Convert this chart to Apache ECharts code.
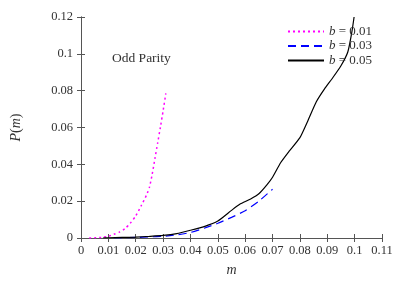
<!DOCTYPE html>
<html><head><meta charset="utf-8">
<script src="https://cdn.jsdelivr.net/npm/echarts@6/dist/echarts.min.js"></script>
<style>html,body{margin:0;padding:0;background:#fff}#c{width:407px;height:282px}</style>
</head><body><div id="c"></div>
<script>
var xTickLabels = ['0','0.01','0.02','0.03','0.04','0.05','0.06','0.07','0.08','0.09','0.1','0.11'];
var yTickLabels = ['0','0.02','0.04','0.06','0.08','0.1','0.12'];
var seriesNames = ['b = 0.01','b = 0.03','b = 0.05'];

var m01 = [0.003,0.005,0.008,0.010,0.012,0.014,0.016,0.018,0.020,0.022,0.024,0.025,0.026,0.027,0.028,0.029,0.030,0.031];
var p01 = [0,0.0001,0.0004,0.0010,0.0020,0.0032,0.0050,0.0080,0.0120,0.0175,0.0235,0.0275,0.0345,0.0430,0.0515,0.0600,0.0690,0.0785];

var m03 = [0.012,0.015,0.020,0.025,0.030,0.035,0.040,0.045,0.050,0.055,0.060,0.065,0.070];
var p03 = [0,0.0001,0.0003,0.0006,0.0009,0.0017,0.0030,0.0053,0.0080,0.0112,0.0148,0.0200,0.0265];

var m05 = [0.008,0.010,0.015,0.020,0.025,0.030,0.035,0.040,0.045,0.050,0.055,0.058,0.062,0.065,0.068,0.070,0.073,0.076,0.080,0.083,0.086,0.089,0.092,0.095,0.0975,0.099,0.0998];
var p05 = [0,0.0001,0.0003,0.0005,0.0009,0.0014,0.0024,0.0042,0.0062,0.0092,0.0150,0.0183,0.0212,0.0240,0.0290,0.0330,0.0410,0.0470,0.0545,0.0640,0.0740,0.0810,0.0870,0.0935,0.1010,0.1120,0.1200];

function zip(a,b){return a.map(function(v,i){return [v,b[i]];});}

var FONT = 'Liberation Serif';
var AX = '#555';
var TXT = '#333';
var chart = echarts.init(document.getElementById('c'));
var tickCommon = {show:true, inside:true, length:4, lineStyle:{color:AX}};
chart.setOption({
  animation:false,
  textStyle:{fontFamily:FONT},
  grid:{left:81, right:25, top:17, bottom:44},
  title:{text:'Odd Parity', left:107, top:46, textStyle:{fontFamily:FONT, fontSize:13.5, fontWeight:'normal', color:TXT}},
  legend:{
    orient:'vertical', left:282, top:20, itemWidth:36, itemHeight:12, itemGap:1.5,
    data:seriesNames,
    itemStyle:{color:'rgba(0,0,0,0)', borderWidth:0, opacity:0},
    formatter:function(n){return '{i|b} = '+n.split('= ')[1];},
    textStyle:{fontFamily:FONT, fontSize:13, color:TXT, rich:{i:{fontFamily:FONT, fontStyle:'italic', fontSize:13, color:TXT}}}
  },
  xAxis:[{
    type:'value', min:0, max:0.11, interval:0.01, position:'bottom',
    name:'{i|m}', nameLocation:'middle', nameGap:25,
    nameTextStyle:{fontFamily:FONT, fontSize:14, color:TXT, rich:{i:{fontFamily:FONT, fontStyle:'italic', fontSize:14, color:TXT}}},
    axisLine:{show:true, onZero:false, lineStyle:{color:AX}},
    axisTick:tickCommon,
    axisLabel:{fontFamily:FONT, fontSize:12.5, color:TXT, margin:6, formatter:function(v){return xTickLabels[Math.round(v/0.01)];}},
    splitLine:{show:false}
  },{
    type:'value', min:0, max:0.11, interval:0.01, position:'top',
    axisLine:{show:true, lineStyle:{color:AX}}, axisTick:tickCommon, axisLabel:{show:false}, splitLine:{show:false}
  }],
  yAxis:[{
    type:'value', min:0, max:0.12, interval:0.02, position:'left',
    name:'{i|P}({i|m})', nameLocation:'middle', nameGap:58, nameRotate:90,
    nameTextStyle:{fontFamily:FONT, fontSize:14, color:TXT, rich:{i:{fontFamily:FONT, fontStyle:'italic', fontSize:14, color:TXT}}},
    axisLine:{show:true, onZero:false, lineStyle:{color:AX}},
    axisTick:tickCommon,
    axisLabel:{fontFamily:FONT, fontSize:12.5, color:TXT, margin:8, formatter:function(v){return yTickLabels[Math.round(v/0.02)];}},
    splitLine:{show:false}
  },{
    type:'value', min:0, max:0.12, interval:0.02, position:'right',
    axisLine:{show:true, lineStyle:{color:AX}}, axisTick:tickCommon, axisLabel:{show:false}, splitLine:{show:false}
  }],
  series:[
    {name:seriesNames[0], type:'line', data:zip(m01,p01), symbol:'none', smooth:0.2,
     lineStyle:{color:'#ff00ff', width:1.5, type:[2,3]}, itemStyle:{color:'#ff00ff'}},
    {name:seriesNames[1], type:'line', data:zip(m03,p03), symbol:'none', smooth:0.2,
     lineStyle:{color:'#0000ff', width:1.2, type:[8,5]}, itemStyle:{color:'#0000ff'}},
    {name:seriesNames[2], type:'line', data:zip(m05,p05), symbol:'none', smooth:0.2,
     lineStyle:{color:'#000', width:1.2}, itemStyle:{color:'#000'}}
  ]
});
</script></body></html>
